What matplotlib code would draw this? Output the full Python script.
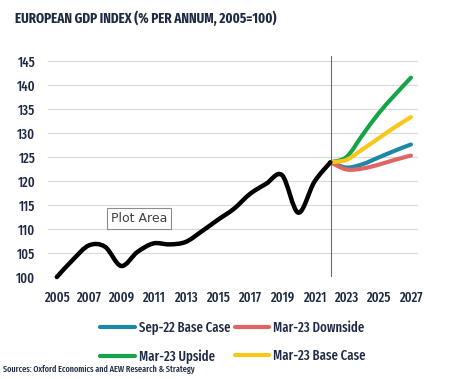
import matplotlib
matplotlib.use("Agg")
import matplotlib.pyplot as plt
from matplotlib.path import Path
from matplotlib.patches import PathPatch
from matplotlib.lines import Line2D

# history 2005-2022
hist_years = list(range(2005, 2023))
hist_vals = [100, 103.6, 106.6, 106.3, 102.3, 105.2, 107.0, 106.8, 107.3, 109.5,
             111.9, 114.2, 117.3, 119.4, 121.2, 113.4, 119.8, 123.9]

# forecasts 2022-2027
fc_years = [2022, 2023, 2024, 2025, 2026, 2027]
sep22_base = [123.9, 122.8, 123.5, 124.9, 126.3, 127.6]
mar23_down = [123.9, 122.4, 122.6, 123.4, 124.4, 125.3]
mar23_up = [123.9, 125.0, 129.6, 134.1, 137.9, 141.5]
mar23_base = [123.9, 124.4, 126.6, 128.9, 131.2, 133.3]

labels = ["Sep-22 Base Case", "Mar-23 Downside", "Mar-23 Upside", "Mar-23 Base Case"]
colors = ["#1f87a6", "#e06666", "#17a34a", "#f7c719"]

navy = "#1f2a44"
fonts = ["Fira Sans Extra Condensed", "Roboto Condensed", "DejaVu Sans"]


def smooth(ax, xs, ys, color, lw):
    # excel-like smoothed line: catmull-rom converted to bezier segments
    verts = [(xs[0], ys[0])]
    codes = [Path.MOVETO]
    n = len(xs)
    for i in range(n - 1):
        x0, y0 = (xs[i - 1], ys[i - 1]) if i > 0 else (xs[i], ys[i])
        x1, y1 = xs[i], ys[i]
        x2, y2 = xs[i + 1], ys[i + 1]
        x3, y3 = (xs[i + 2], ys[i + 2]) if i + 2 < n else (x2, y2)
        c1 = (x1 + (x2 - x0) / 6.0, y1 + (y2 - y0) / 6.0)
        c2 = (x2 - (x3 - x1) / 6.0, y2 - (y3 - y1) / 6.0)
        verts += [c1, c2, (x2, y2)]
        codes += [Path.CURVE4] * 3
    p = PathPatch(Path(verts, codes), facecolor="none", edgecolor=color,
                  lw=lw, capstyle="round", joinstyle="round", zorder=3, clip_on=False)
    ax.add_patch(p)


fig = plt.figure(figsize=(4.61, 3.79), dpi=100)
ax = fig.add_axes([0.104, 0.269, 0.803, 0.583])

for vals, c in zip([sep22_base, mar23_down, mar23_up, mar23_base], colors):
    smooth(ax, fc_years, vals, c, 3.0)
smooth(ax, hist_years, hist_vals, "black", 3.2)

ax.axvline(2022.05, color="#6e6e6e", lw=0.8, zorder=2)

ax.set_xlim(2004.45, 2027.45)
ax.set_ylim(100, 146)
ax.set_xticks(range(2005, 2028, 2))
ax.set_yticks(range(100, 146, 5))
ax.grid(axis="y", color="#d9d9d9", lw=0.8, zorder=0)
ax.set_axisbelow(True)
for s in ax.spines.values():
    s.set_visible(False)
ax.tick_params(length=0, labelsize=10, labelcolor=navy)
ax.tick_params(axis="x", pad=10)
ax.tick_params(axis="y", pad=9)
for t in ax.get_xticklabels() + ax.get_yticklabels():
    t.set_fontfamily(fonts)
    t.set_fontweight(500)

ax.text(2008.35, 112.2, "Plot Area", fontsize=9, color="#404040",
        ha="left", va="center", family="DejaVu Sans", zorder=5,
        bbox=dict(boxstyle="square,pad=0.3", fc="white", ec="#8c8c8c", lw=0.8))

fig.text(0.033, 0.952, "EUROPEAN GDP INDEX (% PER ANNUM, 2005=100)", fontsize=10.2,
         fontweight="bold", color=navy, family=fonts, va="center")

# legend fills column-wise: col1 = Sep-22 / Upside, col2 = Downside / Base
order = [0, 2, 1, 3]
handles = [Line2D([0], [0], color=colors[i], lw=3.0, solid_capstyle="round") for i in order]
leg = fig.legend(handles, [labels[i] for i in order], ncol=2, loc="upper left",
                 bbox_to_anchor=(0.217, 0.155), borderaxespad=0, borderpad=0,
                 frameon=False, handlelength=2.5, columnspacing=0.3, handletextpad=0.3,
                 labelspacing=1.05, prop={"family": fonts, "size": 10, "weight": 500})
for t in leg.get_texts():
    t.set_color(navy)

fig.text(0.006, 0.024, "Sources: Oxford Economics and AEW Research & Strategy", fontsize=6.4,
         color=navy, family=fonts, fontweight=500, va="center")

fig.savefig("out.png", dpi=100)
